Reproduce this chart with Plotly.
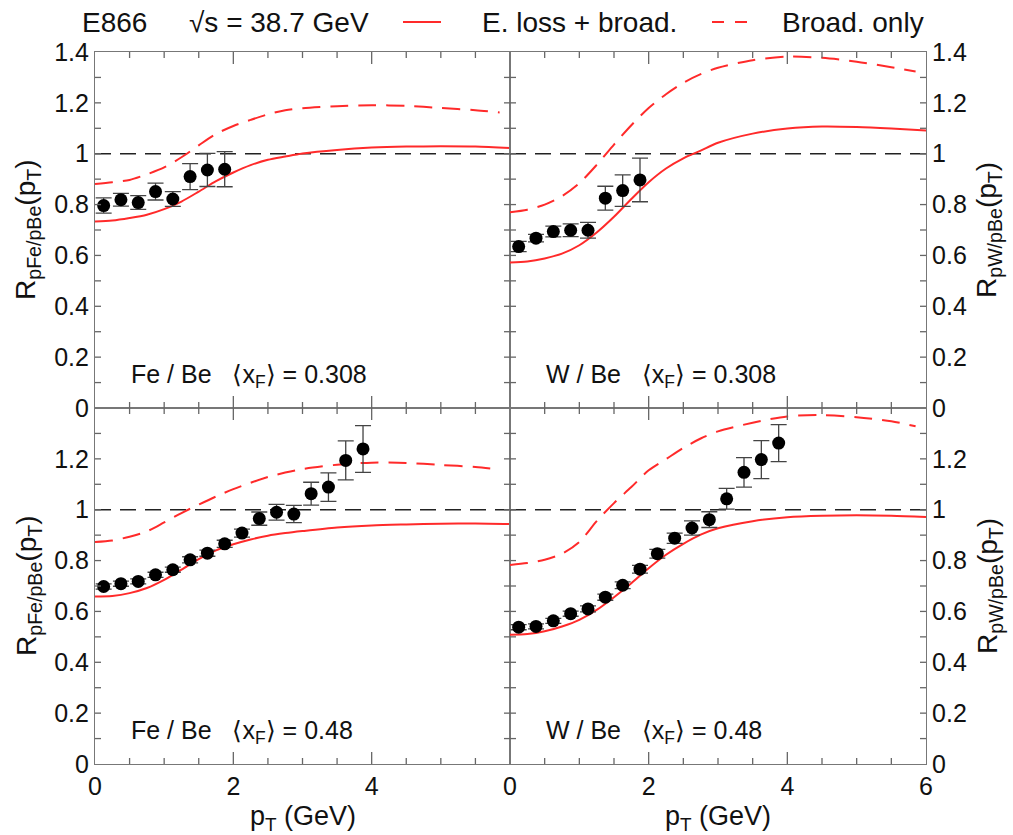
import plotly.graph_objects as go

# ---------------- data ----------------
pt_top = [0.125, 0.375, 0.625, 0.875, 1.125, 1.375, 1.625, 1.875]
pt_bot = [0.125, 0.375, 0.625, 0.875, 1.125, 1.375, 1.625, 1.875,
          2.125, 2.375, 2.625, 2.875, 3.125, 3.375, 3.625, 3.875]

fe_308_y = [0.796, 0.819, 0.808, 0.851, 0.822, 0.910, 0.936, 0.939]
fe_308_e = [0.030, 0.025, 0.027, 0.033, 0.029, 0.051, 0.065, 0.069]
w_308_y = [0.635, 0.668, 0.694, 0.699, 0.699, 0.825, 0.855, 0.897]
w_308_e = [0.020, 0.015, 0.021, 0.025, 0.031, 0.047, 0.062, 0.086]
fe_48_y = [0.698, 0.709, 0.718, 0.744, 0.764, 0.803, 0.829, 0.866,
           0.908, 0.965, 0.990, 0.983, 1.063, 1.089, 1.194, 1.239]
fe_48_e = [0.010, 0.010, 0.010, 0.010, 0.010, 0.012, 0.012, 0.014,
           0.016, 0.026, 0.031, 0.034, 0.045, 0.056, 0.077, 0.092]
w_48_y = [0.538, 0.541, 0.563, 0.591, 0.610, 0.656, 0.703, 0.766,
          0.827, 0.888, 0.928, 0.961, 1.043, 1.147, 1.197, 1.262]
w_48_e = [0.010, 0.010, 0.010, 0.010, 0.012, 0.012, 0.013, 0.015,
          0.017, 0.020, 0.028, 0.031, 0.041, 0.058, 0.075, 0.073]

curve_x = [0, 0.25, 0.5, 0.75, 1.0, 1.25, 1.5, 1.75, 2.0, 2.25, 2.5, 2.75,
           3.0, 3.5, 4.0, 4.5, 5.0, 5.5, 6.0]
dash_x = [0, 0.25, 0.5, 0.75, 1.0, 1.25, 1.5, 1.75, 2.0, 2.25, 2.5, 2.75,
          3.0, 3.5, 4.0, 4.5, 5.0, 5.5, 5.85]

fe_308_eloss = [0.733, 0.737, 0.747, 0.760, 0.782, 0.812, 0.851, 0.892, 0.926, 0.955,
                0.976, 0.989, 1.001, 1.015, 1.024, 1.028, 1.029, 1.028, 1.022]
fe_308_broad = [0.881, 0.888, 0.897, 0.919, 0.946, 0.986, 1.033, 1.078, 1.109, 1.133,
                1.155, 1.171, 1.179, 1.187, 1.191, 1.188, 1.180, 1.171, 1.162]
w_308_eloss = [0.572, 0.576, 0.588, 0.607, 0.640, 0.690, 0.752, 0.822, 0.888, 0.942,
               0.982, 1.012, 1.043, 1.079, 1.099, 1.107, 1.105, 1.099, 1.091]
w_308_broad = [0.770, 0.780, 0.800, 0.833, 0.884, 0.956, 1.036, 1.112, 1.180, 1.234,
               1.279, 1.313, 1.338, 1.368, 1.382, 1.377, 1.362, 1.340, 1.323]
fe_48_eloss = [0.659, 0.661, 0.672, 0.692, 0.724, 0.764, 0.806, 0.840, 0.864, 0.883,
               0.898, 0.908, 0.916, 0.930, 0.938, 0.942, 0.945, 0.946, 0.944]
fe_48_broad = [0.873, 0.879, 0.894, 0.915, 0.950, 0.987, 1.020, 1.052, 1.081, 1.106,
               1.129, 1.146, 1.160, 1.177, 1.185, 1.184, 1.176, 1.168, 1.157]
w_48_eloss = [0.508, 0.511, 0.522, 0.541, 0.567, 0.606, 0.656, 0.711, 0.770, 0.823,
              0.866, 0.902, 0.927, 0.955, 0.970, 0.976, 0.978, 0.976, 0.971]
w_48_broad = [0.783, 0.790, 0.803, 0.827, 0.873, 0.955, 1.026, 1.089, 1.155, 1.199,
              1.243, 1.280, 1.308, 1.342, 1.367, 1.372, 1.364, 1.348, 1.328]

unity_x = [0, 6]
unity_y = [1, 1]

# tick positions (axis decorations)
x_tick_vals = [0.5, 1.0, 1.5, 2.0, 2.5, 3.0, 3.5, 4.0, 4.5, 5.0, 5.5]
x_major_vals = [2.0, 4.0]
y_tick_vals = [0.1, 0.2, 0.3, 0.4, 0.5, 0.6, 0.7, 0.8, 0.9, 1.0, 1.1, 1.2, 1.3]
top_vals = [0, 0.2, 0.4, 0.6, 0.8, 1, 1.2, 1.4]
bot_vals = [0, 0.2, 0.4, 0.6, 0.8, 1, 1.2]

NB = "\u00a0"
panel_labels = [f"Fe / Be{NB*3}⟨x<sub>F</sub>⟩ = 0.308", f"W / Be{NB*3}⟨x<sub>F</sub>⟩ = 0.308",
                f"Fe / Be{NB*3}⟨x<sub>F</sub>⟩ = 0.48", f"W / Be{NB*3}⟨x<sub>F</sub>⟩ = 0.48"]
ytitles = ["R<sub>pFe/pBe</sub>(p<sub>T</sub>)", "R<sub>pW/pBe</sub>(p<sub>T</sub>)"]
xtitle = "p<sub>T</sub> (GeV)"
header_texts = ["E866", "√s = 38.7 GeV", "E. loss + broad.", "Broad. only"]

# ---------------- figure ----------------
W, H = 1013, 835
FONT = "Liberation Sans, Arial, Helvetica, sans-serif"
RED = "#ff2a2a"
fig = go.Figure()

panels = [
    (pt_top, fe_308_y, fe_308_e, fe_308_eloss, fe_308_broad, "x", "y"),
    (pt_top, w_308_y, w_308_e, w_308_eloss, w_308_broad, "x2", "y2"),
    (pt_bot, fe_48_y, fe_48_e, fe_48_eloss, fe_48_broad, "x3", "y3"),
    (pt_bot, w_48_y, w_48_e, w_48_eloss, w_48_broad, "x4", "y4"),
]

for px, py, pe, el, br, xa, ya in panels:
    fig.add_trace(go.Scatter(x=unity_x, y=unity_y, mode="lines", xaxis=xa, yaxis=ya,
                             line=dict(color="#222", width=1.6, dash="16px,9px"),
                             showlegend=False, hoverinfo="skip"))
    fig.add_trace(go.Scatter(x=curve_x, y=el, mode="lines", xaxis=xa, yaxis=ya,
                             line=dict(color=RED, width=2, shape="spline", smoothing=0.8),
                             showlegend=False))
    fig.add_trace(go.Scatter(x=dash_x, y=br, mode="lines", xaxis=xa, yaxis=ya,
                             line=dict(color=RED, width=2, shape="spline", smoothing=0.8,
                                       dash="18px,10px"),
                             showlegend=False))
    fig.add_trace(go.Scatter(x=px, y=py, mode="markers", xaxis=xa, yaxis=ya,
                             marker=dict(color="black", size=13, symbol="circle"),
                             error_y=dict(type="data", array=pe, visible=True,
                                          color="#444", thickness=1.3, width=8),
                             showlegend=False))

xl = [95 / W, 510 / W]
xr = [510 / W, 926 / W]
yt = [(H - 408) / H, (H - 52) / H]
yb = [(H - 764) / H, (H - 408) / H]

def xax():
    return dict(range=[0, 6], ticks="", showline=True, linecolor="#777", linewidth=1.2,
                mirror=True, showgrid=False, zeroline=False, automargin=False,
                tickfont=dict(family=FONT, size=25, color="#111"))

def yax():
    return dict(range=[0, 1.4], ticks="", showline=True, linecolor="#777", linewidth=1.2,
                mirror=True, showgrid=False, zeroline=False, automargin=False,
                tickfont=dict(family=FONT, size=25, color="#111"))

fig.update_layout(
    xaxis=dict(xax(), domain=xl, anchor="y", tickvals=[0, 2, 4, 6], showticklabels=False),
    xaxis2=dict(xax(), domain=xr, anchor="y2", tickvals=[0, 2, 4, 6], showticklabels=False),
    xaxis3=dict(xax(), domain=xl, anchor="y3", tickvals=[0, 2, 4]),
    xaxis4=dict(xax(), domain=xr, anchor="y4", tickvals=[0, 2, 4, 6]),
    yaxis=dict(yax(), domain=yt, anchor="x", tickvals=top_vals),
    yaxis2=dict(yax(), domain=yt, anchor="x2", side="right", tickvals=top_vals),
    yaxis3=dict(yax(), domain=yb, anchor="x3", tickvals=bot_vals),
    yaxis4=dict(yax(), domain=yb, anchor="x4", side="right", tickvals=bot_vals),
    width=W, height=H,
    margin=dict(l=0, r=0, t=0, b=0, autoexpand=False),
    paper_bgcolor="white", plot_bgcolor="white",
    font=dict(family=FONT, color="#111"),
    showlegend=False,
)

# inside tick marks on all four sides of each panel
TC = "#666"
shapes = []
for xa, ya in [("x", "y"), ("x2", "y2"), ("x3", "y3"), ("x4", "y4")]:
    for v in x_tick_vals:
        ln = 12 if v in x_major_vals else 6
        for anchor, sgn in ((0, 1), (1, -1)):
            shapes.append(dict(type="line", xref=xa, yref=f"{ya} domain", ysizemode="pixel",
                               yanchor=anchor, x0=v, x1=v, y0=0, y1=sgn * ln,
                               line=dict(color=TC, width=1.3), layer="above"))
    for v in y_tick_vals:
        for anchor, sgn in ((0, 1), (1, -1)):
            shapes.append(dict(type="line", yref=ya, xref=f"{xa} domain", xsizemode="pixel",
                               xanchor=anchor, y0=v, y1=v, x0=0, x1=sgn * 6,
                               line=dict(color=TC, width=1.3), layer="above"))

hy = 1 - 22 / H
shapes.append(dict(type="line", xref="paper", yref="paper", x0=403 / W, x1=441 / W, y0=hy, y1=hy,
                   line=dict(color=RED, width=2)))
shapes.append(dict(type="line", xref="paper", yref="paper", x0=712 / W, x1=747 / W, y0=hy, y1=hy,
                   line=dict(color=RED, width=2, dash="12px,11px")))
fig.update_layout(shapes=shapes)

ann = []
for i, (xd, yd) in enumerate([(xl, yt), (xr, yt), (xl, yb), (xr, yb)]):
    ann.append(dict(x=xd[0] + 34 / W, y=yd[0] + 32 / H, xref="paper", yref="paper",
                    text=panel_labels[i], showarrow=False, xanchor="left", yanchor="middle",
                    font=dict(family=FONT, size=25, color="#111")))
for yd in (yt, yb):
    yc = (yd[0] + yd[1]) / 2
    ann.append(dict(x=28 / W, y=yc, xref="paper", yref="paper", text=ytitles[0], textangle=-90,
                    showarrow=False, xanchor="center", yanchor="middle",
                    font=dict(family=FONT, size=28, color="#111")))
    ann.append(dict(x=989 / W, y=yc, xref="paper", yref="paper", text=ytitles[1], textangle=-90,
                    showarrow=False, xanchor="center", yanchor="middle",
                    font=dict(family=FONT, size=28, color="#111")))
for xd in (xl, xr):
    ann.append(dict(x=(xd[0] + xd[1]) / 2, y=1 - 818 / H, xref="paper", yref="paper", text=xtitle,
                    showarrow=False, xanchor="center", yanchor="middle",
                    font=dict(family=FONT, size=27, color="#111")))
for txt, xc in zip(header_texts, [114, 279, 579, 853]):
    ann.append(dict(x=xc / W, y=hy, xref="paper", yref="paper", text=txt, showarrow=False,
                    xanchor="center", yanchor="middle", font=dict(family=FONT, size=28, color="#111")))
fig.update_layout(annotations=ann)

fig.write_html("out.html", config={"displayModeBar": False},
               post_script="document.body.style.margin='0px';document.body.style.padding='0px';")
